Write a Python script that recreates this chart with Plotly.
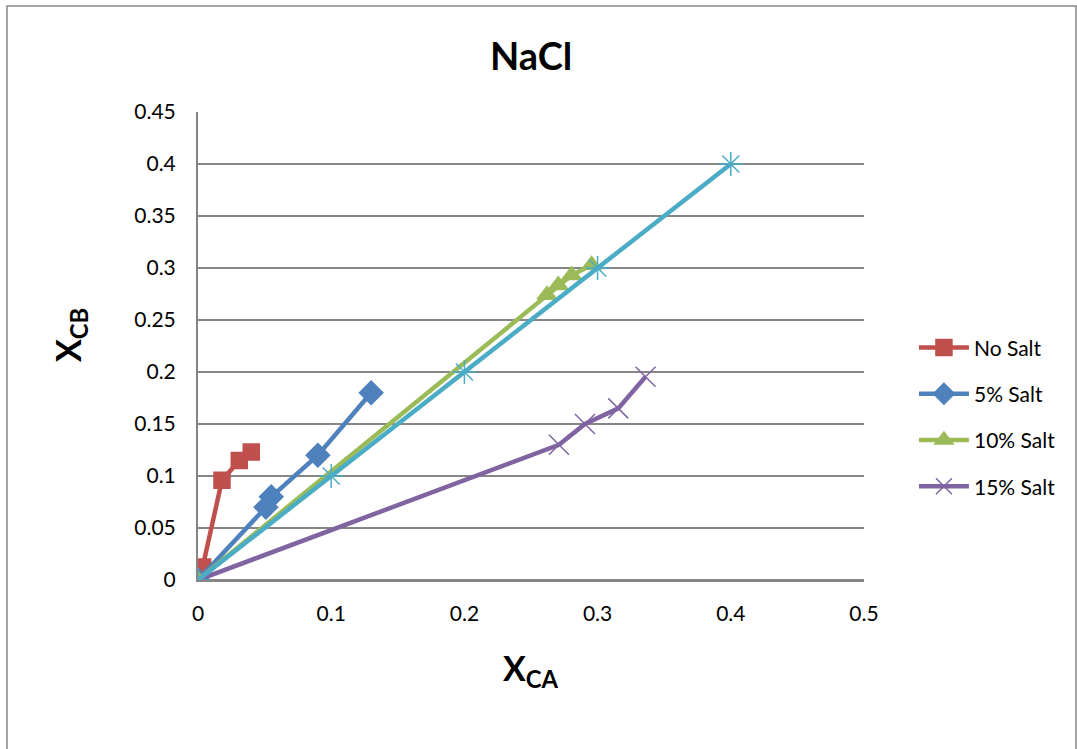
import plotly.graph_objects as go

# Data
no_salt_x = [0, 0.0035, 0.018, 0.031, 0.040]
no_salt_y = [0, 0.0125, 0.096, 0.115, 0.123]

salt5_x = [0, 0.051, 0.055, 0.090, 0.130]
salt5_y = [0, 0.070, 0.080, 0.120, 0.180]

salt10_x = [0, 0.262, 0.2705, 0.2805, 0.2955]
salt10_y = [0, 0.274, 0.2835, 0.293, 0.303]

salt15_x = [0, 0.271, 0.2905, 0.3155, 0.336]
salt15_y = [0, 0.130, 0.150, 0.165, 0.1955]

ref_x = [0, 0.1, 0.2, 0.3, 0.4]
ref_y = [0, 0.1, 0.2, 0.3, 0.4]

x_ticks = [0, 0.1, 0.2, 0.3, 0.4, 0.5]
x_labels = ["0", "0.1", "0.2", "0.3", "0.4", "0.5"]
y_ticks = [0, 0.05, 0.1, 0.15, 0.2, 0.25, 0.3, 0.35, 0.4, 0.45]
y_labels = ["0", "0.05", "0.1", "0.15", "0.2", "0.25", "0.3", "0.35", "0.4", "0.45"]

FONT = "Lato, 'Open Sans', sans-serif"

fig = go.Figure()

series = [
    ("No Salt", no_salt_x, no_salt_y, "#C0504D", "square", 16, True),
    ("5% Salt", salt5_x, salt5_y, "#4F81BD", "diamond", 18, True),
    ("10% Salt", salt10_x, salt10_y, "#9BBB59", "triangle-up", 17, True),
    ("15% Salt", salt15_x, salt15_y, "#8064A2", "x-thin-open", 20, True),
    ("Series5", ref_x, ref_y, "#4BACC6", "asterisk-open", 20, False),
]

for i, (name, xs, ys, col, sym, sz, show) in enumerate(series):
    fig.add_trace(go.Scatter(
        x=xs, y=ys, name=name, mode="lines+markers",
        line=dict(color=col, width=4.5),
        marker=dict(symbol=sym, size=sz, color=col,
                    line=dict(color=col, width=1.5)),
        showlegend=show, legendgroup="g%d" % i,
    ))

fig.update_layout(
    width=1077, height=749,
    margin=dict(l=198, r=213, t=112, b=169),
    paper_bgcolor="white", plot_bgcolor="white",
    font=dict(family=FONT, size=21, color="black"),
    showlegend=True,
    legend=dict(x=1.075, y=0.54, xanchor="left", yanchor="top",
                font=dict(family=FONT, size=21, color="black"),
                tracegroupgap=16, traceorder="grouped",
                bgcolor="rgba(0,0,0,0)", itemwidth=50),
    xaxis=dict(range=[0, 0.5], tickvals=x_ticks, ticktext=x_labels,
               showgrid=False, zeroline=False, showline=True,
               linecolor="#868686", linewidth=2, ticks="",
               tickfont=dict(family=FONT, size=21), ticklabelstandoff=14),
    yaxis=dict(range=[0, 0.45], tickvals=y_ticks, ticktext=y_labels,
               showgrid=True, gridcolor="#868686", gridwidth=2,
               zeroline=False, showline=True, linecolor="#868686",
               linewidth=2, ticks="",
               tickfont=dict(family=FONT, size=21), ticklabelstandoff=16),
    annotations=[
        dict(text="<b>NaCl</b>", xref="paper", yref="paper",
             x=0.5, y=(580 - 55) / 468, xanchor="center", yanchor="middle",
             showarrow=False, font=dict(family=FONT, size=38)),
        dict(text="<b>X<sub>CA</sub></b>", xref="paper", yref="paper",
             x=0.5, y=(580 - 670) / 468, xanchor="center", yanchor="middle",
             showarrow=False, font=dict(family=FONT, size=34)),
        dict(text="<b>X<sub>CB</sub></b>", xref="paper", yref="paper",
             x=(70 - 198) / 666, y=(580 - 335) / 468, xanchor="center",
             yanchor="middle", textangle=-90,
             showarrow=False, font=dict(family=FONT, size=34)),
    ],
    shapes=[
        dict(type="rect", xref="paper", yref="paper",
             x0=(7 - 198) / 666, x1=(1076 - 198) / 666,
             y0=(580 - 760) / 468, y1=(580 - 6) / 468,
             line=dict(color="#868686", width=1.5), layer="below"),
        dict(type="line", xref="paper", yref="y",
             x0=0, x1=1, y0=0, y1=0,
             line=dict(color="#868686", width=2), layer="below"),
    ],
)

fig.write_html("out.html")
